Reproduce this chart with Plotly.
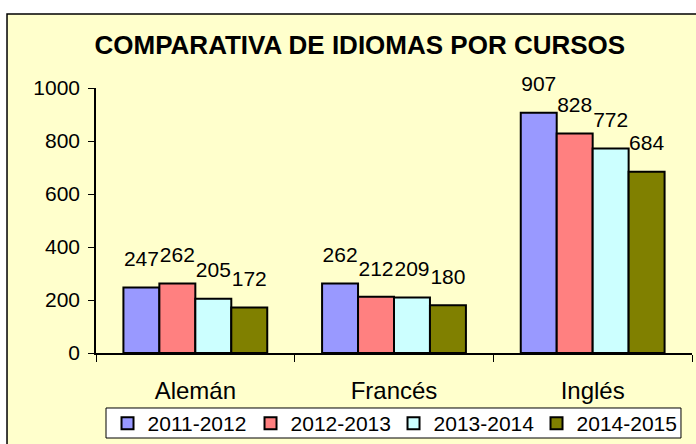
import plotly.graph_objects as go

categories = ["Alemán", "Francés", "Inglés"]
series_names = ["2011-2012", "2012-2013", "2013-2014", "2014-2015"]
v_2011 = [247, 262, 907]
v_2012 = [262, 212, 828]
v_2013 = [205, 209, 772]
v_2014 = [172, 180, 684]
series_values = [v_2011, v_2012, v_2013, v_2014]
colors = ["#9999FF", "#FF8080", "#CCFFFF", "#808000"]
y_ticks = [0, 200, 400, 600, 800, 1000]

FONT = "Liberation Sans, Arial, sans-serif"

fig = go.Figure()
for name, vals, col in zip(series_names, series_values, colors):
    fig.add_trace(go.Bar(
        x=categories, y=vals, name=name,
        marker=dict(color=col, line=dict(color="black", width=2)),
        offsetgroup=name,
    ))
for name, vals in zip(series_names, series_values):
    fig.add_trace(go.Scatter(
        x=categories, y=vals, mode="markers+text", text=[str(v) for v in vals],
        textposition="top center", offsetgroup=name, showlegend=False,
        marker=dict(size=24, opacity=0),
        textfont=dict(family=FONT, size=21, color="black"),
        cliponaxis=False, hoverinfo="skip",
    ))

# chart area background and border
fig.add_shape(type="rect", xref="paper", yref="paper",
              x0=-0.1493, x1=1.02, y0=-0.5, y1=1.279,
              fillcolor="#FFFFCC", line=dict(color="black", width=1.5), layer="below")
# legend box
fig.add_shape(type="rect", xref="paper", yref="paper",
              x0=0.0168, x1=0.9815, y0=-0.3208, y1=-0.2075,
              fillcolor="white", line=dict(color="black", width=1), layer="below")

fig.update_layout(
    width=696, height=444,
    margin=dict(l=96, r=4, t=88, b=91, autoexpand=False),
    paper_bgcolor="white", plot_bgcolor="rgba(0,0,0,0)",
    barmode="group", bargap=0.276, bargroupgap=0,
    scattermode="group", scattergap=0.276,
    font=dict(family=FONT, size=21, color="black"),
    title=dict(text="<b>COMPARATIVA DE IDIOMAS POR CURSOS</b>",
               x=0.517, xanchor="center", y=0.90, yanchor="middle",
               yref="container", xref="container",
               font=dict(family=FONT, size=26, color="black")),
    showlegend=True,
    legend=dict(orientation="h", x=0.5654, xanchor="center", y=0.0923, yanchor="top",
                xref="container", yref="container",
                bgcolor="rgba(0,0,0,0)", borderwidth=0,
                entrywidth=98, entrywidthmode="pixels",
                font=dict(family=FONT, size=21), traceorder="normal"),
    xaxis=dict(showline=True, linecolor="black", linewidth=1.5,
               ticks="outside", tickson="boundaries", ticklen=7, tickcolor="black",
               showgrid=False, ticklabelstandoff=15,
               tickfont=dict(family=FONT, size=24)),
    yaxis=dict(range=[0, 1000], tickvals=y_ticks, showline=True, linecolor="black",
               linewidth=1.5, ticks="outside", ticklen=6, tickcolor="black",
               showgrid=False, zeroline=False, ticklabelstandoff=4,
               tickfont=dict(family=FONT, size=21)),
)

fig.write_html("out.html", config={"displayModeBar": False},
               post_script="document.body.style.margin='0';")
